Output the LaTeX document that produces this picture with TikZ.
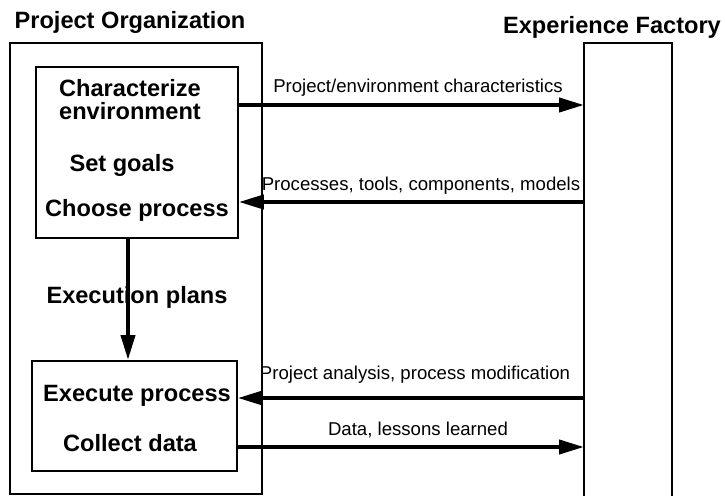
\documentclass[tikz,border=0pt]{standalone}
\usepackage{fontspec}
\setmainfont{Liberation Sans}
\usetikzlibrary{arrows.meta}
\begin{document}
\begin{tikzpicture}[x=1pt,y=-1pt,
  box/.style={draw, line width=1.8pt, inner sep=0pt, anchor=north west},
  big/.style={font=\fontsize{23.6}{23}\selectfont\bfseries, inner sep=0pt, align=center},
  lbl/.style={font=\fontsize{18.6}{20}\selectfont, inner sep=0pt},
  flow/.style={line width=4pt, -{Triangle[length=25pt,width=14pt]}}]
\useasboundingbox (0,0) rectangle (725,495);
% boxes
\node[box, minimum width=252pt, minimum height=451pt] (org) at (9,42) {};
\node[box, minimum width=202pt, minimum height=171pt] (box1) at (35,66) {};
\node[box, minimum width=205pt, minimum height=110pt] (box2) at (31,360) {};
\node[box, draw=none, minimum width=86pt, minimum height=470pt] (ef) at (584,43) {};
\draw[line width=1.8pt] (ef.south west) -- (ef.north west) -- (ef.north east) -- (ef.south east);
% titles
\node[big] (torg) at (130,22) {Project Organization};
\node[big] (tef) at (612,27) {Experience Factory};
% box texts
\node[big] (char) at (130,100) {Characterize\\environment};
\node[big] (goals) at (122,165) {Set goals};
\node[big] (choose) at (137,210) {Choose process};
\node[big] (exec) at (137,396) {Execute process};
\node[big] (collect) at (130,443) {Collect data};
\node[big] (plans) at (137,297) {Execution plans};
% rows
\coordinate (r1) at (0,105);
\coordinate (r2) at (0,202);
\coordinate (r3) at (0,398);
\coordinate (r4) at (0,447);
\coordinate (vx) at (128,0);
% connectors
\draw[flow] (box1.east |- r1) -- (ef.west |- r1);
\draw[flow] (ef.west |- r2) -- (box1.east |- r2);
\draw[flow] (ef.west |- r3) -- (box2.east |- r3);
\draw[flow] (box2.east |- r4) -- (ef.west |- r4);
\draw[flow] (box1.south -| vx) -- (box2.north -| vx);
% labels
\node[lbl] (l1) at (418,88) {Project/environment characteristics};
\node[lbl] (l2) at (421,186) {Processes, tools, components, models};
\node[lbl] (l3) at (415,375) {Project analysis, process modification};
\node[lbl] (l4) at (418,430) {Data, lessons learned};
\end{tikzpicture}
\end{document}
